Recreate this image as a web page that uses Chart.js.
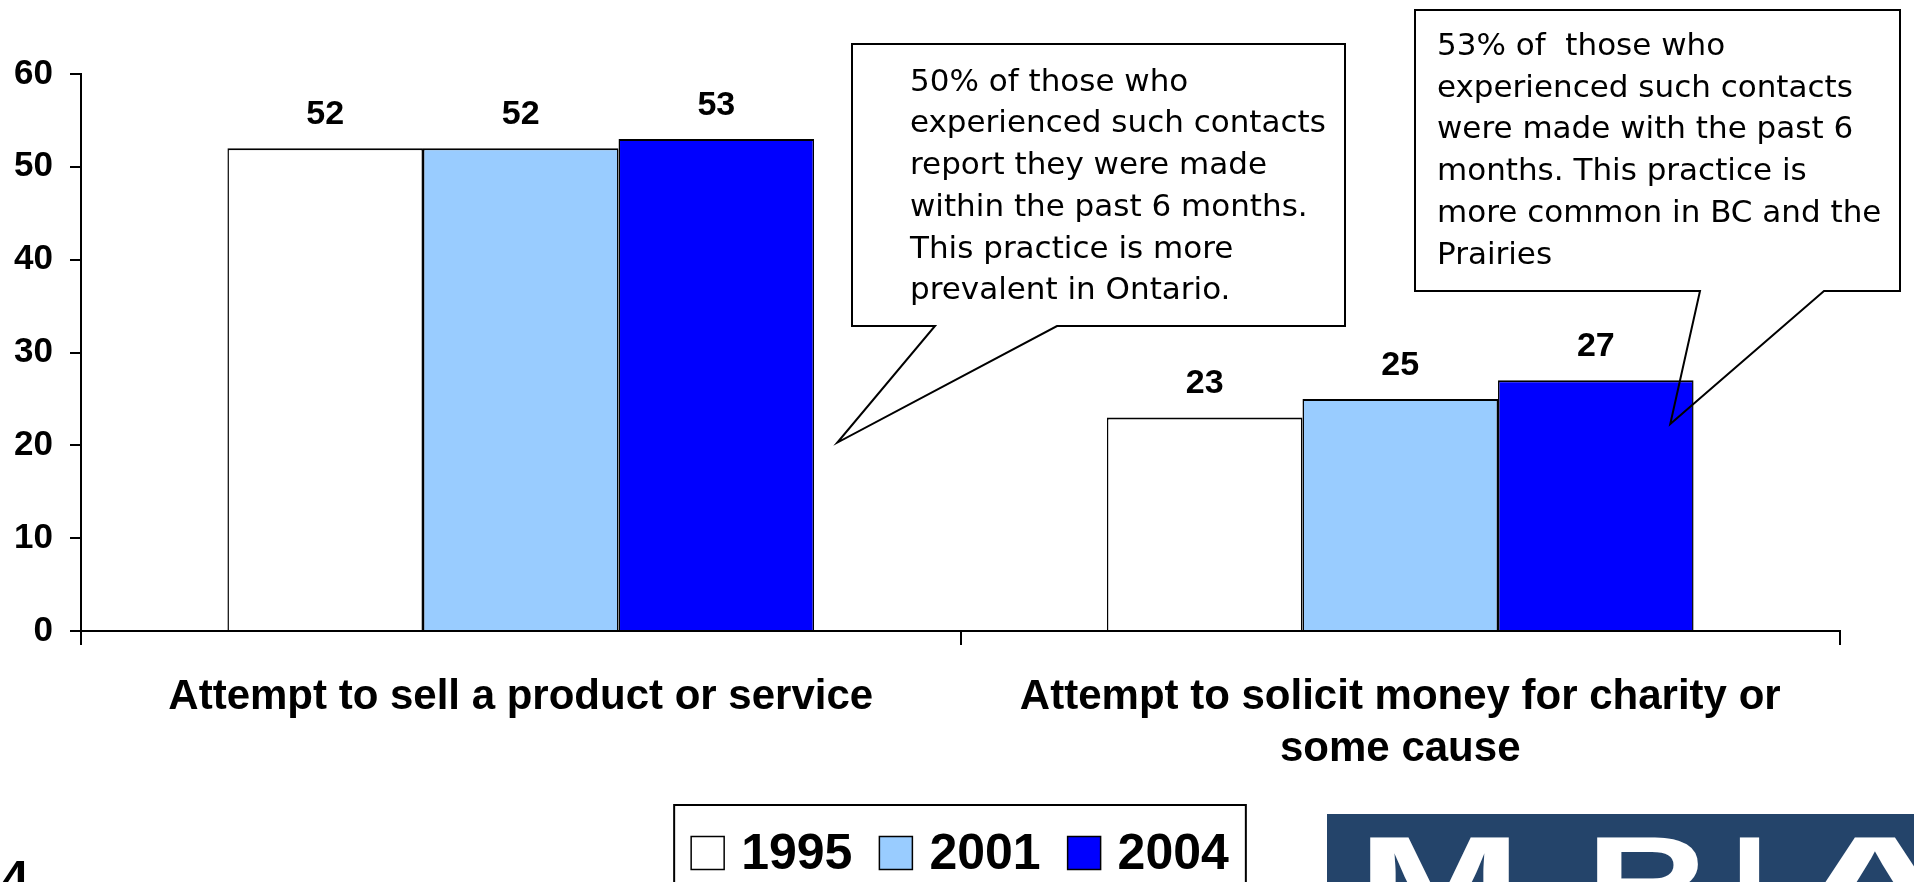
<!DOCTYPE html>
<html>
<head>
<meta charset="utf-8">
<title>Unsolicited contacts, 1995 – 2004</title>
<script src="https://cdn.jsdelivr.net/npm/chart.js@4.4.1/dist/chart.umd.min.js"></script>
<style>
  html, body { margin: 0; padding: 0; background: #ffffff; overflow: hidden; }
  canvas { display: block; }
</style>
</head>
<body>
<canvas id="chart" width="1914" height="882"></canvas>
<script>
// ---- data ----
const categories = [
  ['Attempt to sell a product or service'],
  ['Attempt to solicit money for charity or', 'some cause']
];
const seriesNames = ['1995', '2001', '2004'];
const values1995 = [52, 23];
const values2001 = [52, 25];
const values2004 = [53, 27];
const yTickValues = [0, 10, 20, 30, 40, 50, 60];

const noteSellLines = [
  '50% of those who',
  'experienced such contacts',
  'report they were made',
  'within the past 6 months.',
  'This practice is more',
  'prevalent in Ontario.'
];
const noteCharityLines = [
  '53% of  those who',
  'experienced such contacts',
  'were made with the past 6',
  'months. This practice is',
  'more common in BC and the',
  'Prairies'
];

// ---- styles ----
const BOLD_FAMILY = '"Liberation Sans", Arial, Helvetica, sans-serif';
const NOTE_FAMILY = '"DejaVu Sans", Verdana, Tahoma, sans-serif';
const seriesColors = ['#FFFFFF', '#99CCFF', '#0000FF'];

// Speech-bubble notes: box in canvas pixels, pointer tip in data space
const callouts = [
  { lines: noteSellLines, box: { left: 852, top: 44, right: 1345, bottom: 326 },
    base: [935, 1057], tip: { x: 0.36, y: 20.3 }, inset: 58, firstBaseline: 90.7 },
  { lines: noteCharityLines, box: { left: 1415, top: 10, right: 1900, bottom: 291 },
    base: [1700, 1824], tip: { x: 1.307, y: 22.3 }, inset: 22, firstBaseline: 55 }
];

// Value printed above every bar
const valueLabels = {
  id: 'valueLabels',
  afterDatasetsDraw(chart) {
    const ctx = chart.ctx;
    ctx.save();
    ctx.font = 'bold 34px ' + BOLD_FAMILY;
    ctx.fillStyle = '#000';
    ctx.textAlign = 'center';
    ctx.textBaseline = 'alphabetic';
    chart.data.datasets.forEach((ds, i) => {
      chart.getDatasetMeta(i).data.forEach((bar, j) => {
        ctx.fillText(String(ds.data[j]), bar.x, bar.y - 24);
      });
    });
    ctx.restore();
  }
};

// Callout boxes with a pointer
const calloutNotes = {
  id: 'calloutNotes',
  afterDraw(chart) {
    const ctx = chart.ctx;
    const xs = chart.scales.x, ys = chart.scales.y;
    ctx.save();
    callouts.forEach(c => {
      const b = c.box;
      const tx = xs.getPixelForValue(c.tip.x);
      const ty = ys.getPixelForValue(c.tip.y);
      ctx.fillStyle = '#fff';
      ctx.fillRect(b.left, b.top, b.right - b.left, b.bottom - b.top);
      ctx.beginPath();
      ctx.moveTo(b.left, b.top);
      ctx.lineTo(b.right, b.top);
      ctx.lineTo(b.right, b.bottom);
      ctx.lineTo(c.base[1], b.bottom);
      ctx.lineTo(tx, ty);
      ctx.lineTo(c.base[0], b.bottom);
      ctx.lineTo(b.left, b.bottom);
      ctx.closePath();
      ctx.strokeStyle = '#000';
      ctx.lineWidth = 2;
      ctx.lineJoin = 'miter';
      ctx.stroke();
      ctx.fillStyle = '#000';
      ctx.font = '31px ' + NOTE_FAMILY;
      ctx.textAlign = 'left';
      ctx.textBaseline = 'alphabetic';
      c.lines.forEach((line, k) => {
        ctx.fillText(line, b.left + c.inset, c.firstBaseline + k * 41.7);
      });
    });
    ctx.restore();
  }
};

// Boxed legend under the axis labels
const boxedLegend = {
  id: 'boxedLegend',
  afterDraw(chart) {
    const ctx = chart.ctx;
    ctx.save();
    ctx.font = 'bold 50px ' + BOLD_FAMILY;
    const sw = 33, afterSwatch = 17, between = 27, pad = 17;
    const items = chart.data.datasets.map(ds => ({ text: ds.label, fill: ds.backgroundColor }));
    const widths = items.map(it => ctx.measureText(it.text).width);
    let content = 0;
    items.forEach((it, i) => {
      content += sw + afterSwatch + widths[i] + (i < items.length - 1 ? between : 0);
    });
    const boxW = content + 2 * pad;
    const left = chart.width / 2 + 3 - boxW / 2;
    const top = chart.height - 77;
    const midY = top + 48;
    ctx.fillStyle = '#fff';
    ctx.fillRect(left, top, boxW, 120);
    ctx.strokeStyle = '#000';
    ctx.lineWidth = 2;
    ctx.strokeRect(left, top, boxW, 120);
    let x = left + pad;
    ctx.textAlign = 'left';
    ctx.textBaseline = 'middle';
    items.forEach((it, i) => {
      ctx.fillStyle = it.fill;
      ctx.fillRect(x, midY - sw / 2, sw, sw);
      ctx.lineWidth = 1.5;
      ctx.strokeStyle = '#000';
      ctx.strokeRect(x, midY - sw / 2, sw, sw);
      x += sw + afterSwatch;
      ctx.fillStyle = '#000';
      ctx.fillText(it.text, x, midY + 2);
      x += widths[i] + between;
    });
    ctx.restore();
  }
};

// Page number and organisation mark along the bottom edge
const pageFooter = {
  id: 'pageFooter',
  afterDraw(chart) {
    const ctx = chart.ctx;
    const H = chart.height;
    ctx.save();
    ctx.fillStyle = '#000';
    ctx.font = 'bold 48px ' + BOLD_FAMILY;
    ctx.textAlign = 'left';
    ctx.textBaseline = 'alphabetic';
    ctx.fillText('4', 2, H + 12);

    const logoLeft = 1327, logoTop = H - 68;
    ctx.fillStyle = '#24446A';
    ctx.fillRect(logoLeft, logoTop, chart.width - logoLeft, 68);
    ctx.fillStyle = '#ffffff';
    ctx.font = 'bold 130px ' + BOLD_FAMILY;
    const letters = [['M', 1357, 165], ['R', 1586, 121], ['I', 1731, 37], ['A', 1790, 170]];
    letters.forEach(([ch, lx, lw]) => {
      const w = ctx.measureText(ch).width;
      ctx.save();
      ctx.translate(lx, logoTop + 20 + 93);
      ctx.scale(lw / w, 1);
      ctx.fillText(ch, 0, 0);
      ctx.restore();
    });
    ctx.restore();
  }
};

const ctx = document.getElementById('chart').getContext('2d');
new Chart(ctx, {
  type: 'bar',
  data: {
    labels: categories,
    datasets: [
      { label: seriesNames[0], data: values1995, backgroundColor: seriesColors[0] },
      { label: seriesNames[1], data: values2001, backgroundColor: seriesColors[1] },
      { label: seriesNames[2], data: values2004, backgroundColor: seriesColors[2] }
    ]
  },
  options: {
    responsive: false,
    animation: false,
    devicePixelRatio: 1,
    layout: { padding: { left: 0, right: 74, top: 74, bottom: 0 } },
    datasets: {
      bar: {
        categoryPercentage: 0.667,
        barPercentage: 1,
        borderColor: '#000',
        borderWidth: { top: 2, left: 1.5, right: 1.5, bottom: 0 },
        borderSkipped: false
      }
    },
    plugins: {
      legend: { display: false },
      tooltip: { enabled: false }
    },
    scales: {
      x: {
        afterFit: scale => { scale.height = 251; },
        grid: { offset: true, drawOnChartArea: false, drawTicks: true, tickLength: 14, color: '#000', lineWidth: 2 },
        border: { display: true, color: '#000', width: 2 },
        ticks: {
          color: '#000',
          font: { family: BOLD_FAMILY, size: 42, weight: 'bold', lineHeight: '52px' },
          padding: 26,
          maxRotation: 0,
          autoSkip: false
        }
      },
      y: {
        min: 0,
        max: 60,
        afterFit: scale => { scale.width = 81; },
        afterBuildTicks: scale => { scale.ticks = yTickValues.map(v => ({ value: v })); },
        grid: { drawOnChartArea: false, drawTicks: true, tickLength: 11, color: '#000', lineWidth: 2 },
        border: { display: true, color: '#000', width: 2 },
        ticks: {
          color: '#000',
          font: { family: BOLD_FAMILY, size: 35, weight: 'bold' },
          padding: 17
        }
      }
    }
  },
  plugins: [valueLabels, calloutNotes, boxedLegend, pageFooter]
});
</script>
</body>
</html>
